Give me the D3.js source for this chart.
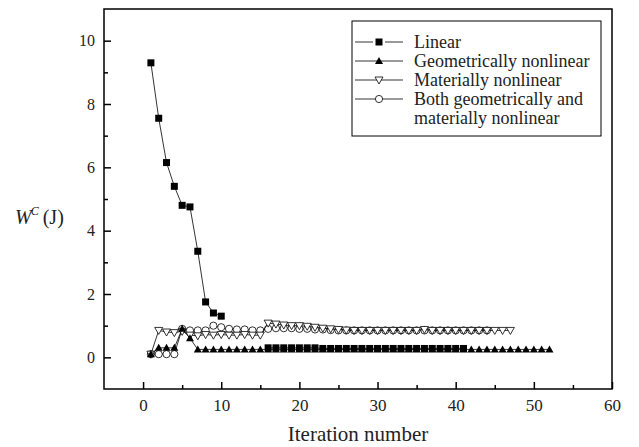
<!DOCTYPE html>
<html>
<head>
<meta charset="utf-8">
<script src="https://cdn.jsdelivr.net/npm/d3@7"></script>
<style>
  body { margin: 0; background: #fff; }
  svg { display: block; font-family: "Liberation Serif", "Times New Roman", serif; }
</style>
</head>
<body>
<div id="chart"></div>
<script>
// iteration data
var linearIter = [1, 2, 3, 4, 5, 6, 7, 8, 9, 10,
    16, 17, 18, 19, 20, 21, 22, 23, 24, 25, 26, 27, 28, 29, 30, 31, 32, 33, 34, 35, 36, 37, 38, 39, 40, 41];
var linearW = [9.3, 7.55, 6.15, 5.4, 4.8, 4.75, 3.35, 1.75, 1.4, 1.3,
    0.3, 0.3, 0.3, 0.3, 0.3, 0.3, 0.3, 0.28, 0.28, 0.28, 0.28, 0.28, 0.28, 0.28, 0.28, 0.28, 0.28, 0.28, 0.28, 0.28, 0.28, 0.28, 0.28, 0.28, 0.28, 0.28];

var geoW = [0.1, 0.3, 0.3, 0.3, 0.9, 0.6, 0.25, 0.25, 0.25, 0.25,
    0.25, 0.25, 0.25, 0.25, 0.25, 0.25, 0.25, 0.25, 0.25, 0.25,
    0.25, 0.25, 0.25, 0.25, 0.25, 0.25, 0.25, 0.25, 0.25, 0.25,
    0.25, 0.25, 0.25, 0.25, 0.25, 0.25, 0.25, 0.25, 0.25, 0.25,
    0.25, 0.25, 0.25, 0.25, 0.25, 0.25, 0.25, 0.25, 0.25, 0.25,
    0.25, 0.25];

var matW = [0.1, 0.85, 0.8, 0.78, 0.82, 0.7, 0.68, 0.72, 0.7, 0.72,
    0.7, 0.7, 0.72, 0.7, 0.7, 1.08, 1.05, 1.02, 1.0, 1.0,
    0.98, 0.95, 0.92, 0.9, 0.88, 0.86, 0.85, 0.85, 0.85, 0.85,
    0.85, 0.85, 0.85, 0.85, 0.85, 0.88, 0.85, 0.85, 0.85, 0.85,
    0.85, 0.85, 0.85, 0.85, 0.85, 0.85, 0.85];

var bothW = [0.1, 0.1, 0.1, 0.1, 0.9, 0.85, 0.85, 0.85, 1.0, 0.95,
    0.9, 0.88, 0.88, 0.85, 0.85, 0.9, 0.92, 0.92, 0.92, 0.9,
    0.9, 0.88, 0.88, 0.86, 0.85, 0.85, 0.85, 0.85, 0.85, 0.85,
    0.85, 0.85, 0.85, 0.85, 0.85, 0.85, 0.85, 0.85, 0.85, 0.85,
    0.85, 0.85, 0.85, 0.85];

var legendNames = ['Linear', 'Geometrically nonlinear', 'Materially nonlinear',
    'Both geometrically and', 'materially nonlinear'];

var xTicks = [0, 10, 20, 30, 40, 50, 60],
    yTicks = [0, 2, 4, 6, 8, 10];

(function(){
    var width = 639, height = 447;
    var pLeft = 104, pRight = 612, pTop = 9, pBottom = 389;

    var x = d3.scaleLinear().domain([-5, 60]).range([pLeft, pRight]);
    var y = d3.scaleLinear().domain([-1, 11]).range([pBottom, pTop]);

    var svg = d3.select('#chart').append('svg')
        .attr('width', width)
        .attr('height', height);

    function pts(iters, vals){
        return vals.map(function(v, i){ return {x: iters ? iters[i] : i + 1, y: v}; });
    }
    var series = [
        {data: pts(linearIter, linearW), mark: 'square'},
        {data: pts(null, geoW), mark: 'triUp'},
        {data: pts(null, matW), mark: 'triDown'},
        {data: pts(null, bothW), mark: 'circle'}
    ];

    var line = d3.line()
        .x(function(d){ return x(d.x); })
        .y(function(d){ return y(d.y); });

    function drawMark(g, type, cx, cy, halo){
        if(type === 'square'){
            g.append('rect').attr('x', cx - 3.5).attr('y', cy - 3.5)
                .attr('width', 7).attr('height', 7).attr('fill', '#000')
                .attr('stroke', halo ? '#fff' : 'none').attr('stroke-width', halo ? 5 : 0)
                .attr('paint-order', 'stroke');
        } else if(type === 'triUp'){
            g.append('path').attr('d', 'M' + cx + ',' + (cy - 4) + 'L' + (cx + 4) + ',' + (cy + 3) + 'L' + (cx - 4) + ',' + (cy + 3) + 'Z')
                .attr('fill', '#000');
        } else if(type === 'triDown'){
            g.append('path').attr('d', 'M' + (cx - 4) + ',' + (cy - 3) + 'L' + (cx + 4) + ',' + (cy - 3) + 'L' + cx + ',' + (cy + 4) + 'Z')
                .attr('fill', '#fff').attr('stroke', '#000').attr('stroke-width', 0.8);
        } else {
            g.append('circle').attr('cx', cx).attr('cy', cy).attr('r', 3.6)
                .attr('fill', '#fff').attr('stroke', '#000').attr('stroke-width', 0.8);
        }
    }

    var plot = svg.append('g');

    // reverse order so linear sits on top
    series.slice().reverse().forEach(function(s){
        var g = plot.append('g');
        // break the line where iterations skip
        var segs = [[]];
        s.data.forEach(function(d, i){
            if(i > 0 && d.x - s.data[i - 1].x > 1) segs.push([]);
            segs[segs.length - 1].push(d);
        });
        segs.forEach(function(seg){
            g.append('path').attr('d', line(seg))
                .attr('fill', 'none').attr('stroke', '#000').attr('stroke-width', 0.8);
        });
        s.data.forEach(function(d){ drawMark(g, s.mark, x(d.x), y(d.y)); });
    });

    // frame
    svg.append('rect')
        .attr('x', pLeft).attr('y', pTop)
        .attr('width', pRight - pLeft).attr('height', pBottom - pTop)
        .attr('fill', 'none').attr('stroke', '#000').attr('stroke-width', 1.5);

    // axes, ticks pointing inward
    svg.append('g').attr('class', 'xax').attr('transform', 'translate(0,' + pBottom + ')')
        .call(d3.axisBottom(x).tickValues(xTicks).tickSize(-7).tickPadding(10));
    svg.append('g').attr('transform', 'translate(0,' + pBottom + ')')
        .call(d3.axisBottom(x).tickValues([5, 15, 25, 35, 45, 55]).tickSize(-4).tickFormat(''));
    svg.append('g').attr('class', 'yax').attr('transform', 'translate(' + pLeft + ',0)')
        .call(d3.axisLeft(y).tickValues(yTicks).tickSize(-7).tickPadding(9));
    svg.append('g').attr('transform', 'translate(' + pLeft + ',0)')
        .call(d3.axisLeft(y).tickValues([1, 3, 5, 7, 9]).tickSize(-4).tickFormat(''));

    svg.selectAll('.domain').remove();
    svg.selectAll('.tick line').attr('stroke', '#000').attr('stroke-width', 1.5);
    svg.selectAll('.tick text')
        .attr('font-family', '"Liberation Serif", serif').attr('fill', '#222');
    svg.selectAll('.xax .tick text').attr('font-size', 17);
    svg.selectAll('.yax .tick text').attr('font-size', 16);

    // axis titles
    svg.append('text')
        .attr('x', (pLeft + pRight) / 2).attr('y', 441)
        .attr('text-anchor', 'middle').attr('font-size', 21).attr('fill', '#222')
        .text('Iteration number');

    var yl = svg.append('text').attr('x', 15).attr('y', 224).attr('font-size', 20).attr('fill', '#222');
    yl.append('tspan').attr('font-style', 'italic').text('W');
    yl.append('tspan').attr('font-style', 'italic').attr('font-size', 12).attr('dy', -9).attr('dx', -1).text('C');
    yl.append('tspan').attr('dy', 9).attr('dx', 4).text('(J)');

    // legend
    var legend = svg.append('g');
    legend.append('rect')
        .attr('x', 352).attr('y', 21).attr('width', 249).attr('height', 115)
        .attr('fill', '#fff').attr('stroke', '#000').attr('stroke-width', 1);

    var rowY = [42, 61, 80, 99, 118];
    series.forEach(function(s, i){
        var g = legend.append('g');
        g.append('line').attr('x1', 355).attr('x2', 403)
            .attr('y1', rowY[i]).attr('y2', rowY[i])
            .attr('stroke', '#000').attr('stroke-width', 0.8);
        drawMark(g, s.mark, 379, rowY[i], i === 0);
    });
    legend.selectAll('text.lbl')
        .data(legendNames)
        .enter().append('text')
            .attr('class', 'lbl')
            .attr('x', 414)
            .attr('y', function(d, i){ return rowY[i] + 6; })
            .attr('font-size', 18)
            .attr('fill', '#222')
            .text(function(d){ return d; });
})();
</script>
</body>
</html>
